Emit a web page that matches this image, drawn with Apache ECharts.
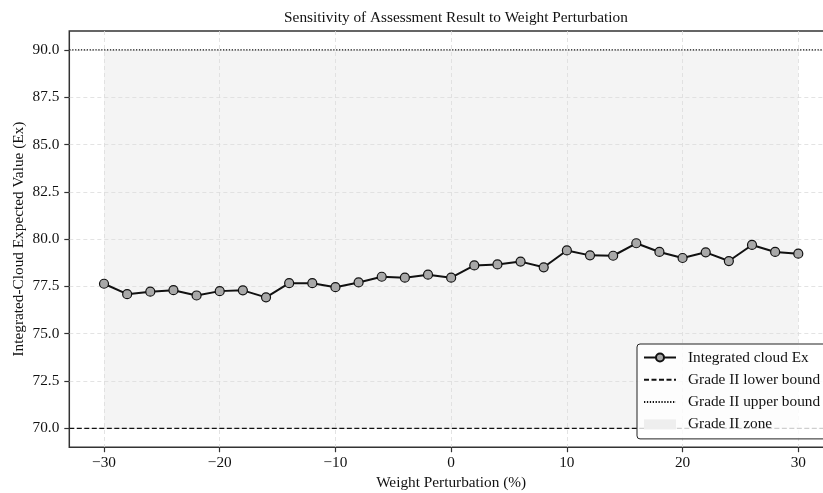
<!DOCTYPE html>
<html>
<head>
<meta charset="utf-8">
<script src="https://cdn.jsdelivr.net/npm/echarts@6/dist/echarts.min.js"></script>
<style>
  html, body { margin: 0; padding: 0; background: #fff; }
  #chart { width: 823px; height: 493px; }
</style>
</head>
<body>
<div id="chart"></div>
<script>
// Weight perturbation levels (%) and the resulting integrated-cloud Ex
const perturbation = [-30, -28, -26, -24, -22, -20, -18, -16, -14, -12, -10, -8, -6, -4, -2,
  0, 2, 4, 6, 8, 10, 12, 14, 16, 18, 20, 22, 24, 26, 28, 30];
const exValues = [77.64, 77.09, 77.22, 77.30, 77.02, 77.25, 77.29, 76.92, 77.67, 77.67, 77.46,
  77.71, 78.01, 77.96, 78.12, 77.96, 78.61, 78.66, 78.81, 78.51, 79.40, 79.14, 79.12, 79.78,
  79.32, 79.00, 79.30, 78.84, 79.69, 79.32, 79.23];

// Grade II band
const gradeLower = 70;
const gradeUpper = 90;

// Axis ranges and tick positions
const xRange = [-33, 33];
const yRange = [69, 91];
const xTicks = [-30, -20, -10, 0, 10, 20, 30];
const yTicks = [70, 72.5, 75, 77.5, 80, 82.5, 85, 87.5, 90];

const serif = '"Liberation Serif", "DejaVu Serif", serif';
const fs = 15.3;
const chart = echarts.init(document.getElementById('chart'), null, { renderer: 'canvas' });

const lineData = perturbation.map((x, i) => [x, exValues[i]]);

chart.setOption({
  animation: false,
  backgroundColor: '#ffffff',
  title: {
    text: 'Sensitivity of Assessment Result to Weight Perturbation',
    left: 451,
    top: 5,
    textAlign: 'center',
    textStyle: { fontFamily: serif, fontSize: fs, fontWeight: 'normal', color: '#111' }
  },
  grid: {
    left: 69.3, right: -10, top: 31, bottom: 45.8,
    outerBoundsMode: 'none',
    containLabel: false,
    show: true, borderColor: '#333', borderWidth: 1.5, backgroundColor: 'transparent'
  },
  xAxis: {
    type: 'value',
    min: xRange[0], max: xRange[1],
    z: 2,
    name: 'Weight Perturbation (%)',
    nameLocation: 'middle',
    nameGap: 27,
    nameTextStyle: { fontFamily: serif, fontSize: fs, color: '#111' },
    axisLine: { show: false, onZero: false },
    axisTick: { show: true, inside: false, length: 5, customValues: xTicks,
      lineStyle: { color: '#333', width: 1.2 } },
    axisLabel: { customValues: xTicks, margin: 8, fontFamily: serif, fontSize: fs, color: '#111',
      formatter: v => (v < 0 ? '\u2212' + Math.abs(v) : String(v)) },
    splitLine: { show: true, lineStyle: { color: '#dcdcdc', type: [4, 3], width: 0.8 } }
  },
  yAxis: {
    type: 'value',
    min: yRange[0], max: yRange[1],
    z: 2,
    name: 'Integrated-Cloud Expected Value (Ex)',
    nameLocation: 'middle',
    nameGap: 43,
    nameMoveOverlap: false,
    nameTextStyle: { fontFamily: serif, fontSize: fs, color: '#111' },
    axisLine: { show: false, onZero: false },
    axisTick: { show: true, inside: false, length: 5, customValues: yTicks,
      lineStyle: { color: '#333', width: 1.2 } },
    axisLabel: { customValues: yTicks, margin: 10, fontFamily: serif, fontSize: fs, color: '#111',
      formatter: v => v.toFixed(1) },
    splitLine: { show: true, lineStyle: { color: '#dcdcdc', type: [4, 3], width: 0.8 } }
  },
  legend: {
    orient: 'vertical',
    left: 637,
    top: 344,
    padding: [6, 8, 7, 6],
    itemWidth: 32,
    itemHeight: 10,
    itemGap: 7.3,
    backgroundColor: 'rgba(255,255,255,0.8)',
    borderColor: '#222',
    borderWidth: 1,
    borderRadius: 3,
    textStyle: { fontFamily: serif, fontSize: fs, color: '#111', padding: [0, 0, 0, 7] },
    data: [
      { name: 'Integrated cloud Ex' },
      { name: 'Grade II lower bound', itemStyle: { opacity: 0 } },
      { name: 'Grade II upper bound', itemStyle: { opacity: 0 } },
      { name: 'Grade II zone', icon: 'rect', itemStyle: { color: '#eeeeee', opacity: 1 } }
    ]
  },
  series: [
    {
      name: 'Grade II zone',
      type: 'line',
      data: [],
      z: 1,
      markArea: {
        silent: true,
        itemStyle: { color: '#f4f4f4' },
        data: [[{ coord: [perturbation[0], gradeLower] },
                { coord: [perturbation[perturbation.length - 1], gradeUpper] }]]
      }
    },
    {
      name: 'Grade II lower bound',
      type: 'line',
      data: [[xRange[0], gradeLower], [xRange[1], gradeLower]],
      symbol: 'none',
      z: 3,
      lineStyle: { color: '#111', width: 1.3, type: [5, 2.5] },
      itemStyle: { color: '#111' }
    },
    {
      name: 'Grade II upper bound',
      type: 'line',
      data: [[xRange[0], gradeUpper], [xRange[1], gradeUpper]],
      symbol: 'none',
      z: 3,
      lineStyle: { color: '#111', width: 1.3, type: [1.3, 1.6] },
      itemStyle: { color: '#111' }
    },
    {
      name: 'Integrated cloud Ex',
      type: 'line',
      data: lineData,
      z: 5,
      symbol: 'circle',
      symbolSize: 9,
      lineStyle: { color: '#111', width: 2 },
      itemStyle: { color: '#a8a8a8', borderColor: '#111', borderWidth: 1.2 }
    }
  ]
});
</script>
</body>
</html>
